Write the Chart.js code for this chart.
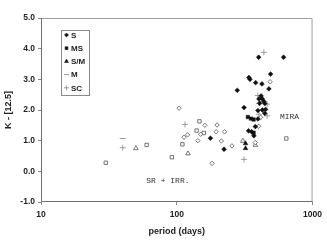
<!DOCTYPE html>
<html>
<head>
<meta charset="utf-8">
<script src="https://cdn.jsdelivr.net/npm/chart.js@4.4.1/dist/chart.umd.min.js"></script>
<style>
  html, body { margin: 0; padding: 0; background: #fff; }
  #wrap { width: 327px; height: 251px; }
</style>
</head>
<body>
<div id="wrap"><canvas id="kChart" width="327" height="251"></canvas></div>
<script>
// period (days) / K-[12.5] pairs
// filled markers = Mira variables, open markers = SR + IRR.
const sPeriod  = [401, 612, 491, 340, 346, 381, 424, 477, 279, 418, 403, 427, 438, 445, 408, 313, 396, 427, 451, 445, 396, 379, 338, 356, 370, 177, 223];
const sK       = [3.72, 3.72, 3.17, 3.06, 3.00, 2.89, 2.85, 2.69, 2.64, 2.46, 2.36, 2.36, 2.28, 2.21, 2.22, 2.08, 1.98, 2.00, 2.02, 1.89, 1.71, 1.46, 1.32, 1.29, 1.16, 1.08, 0.72];

const msPeriod = [334, 352, 368, 368];
const msK      = [1.77, 1.72, 1.69, 1.26];

const smPeriod = [321, 321];
const smK      = [0.91, 0.75];

const mPeriod  = [40];
const mK       = [1.07];

const scPeriod = [40, 115, 438, 395, 403, 463, 403, 463, 313];
const scK      = [0.77, 1.53, 3.88, 2.47, 2.22, 2.19, 1.86, 1.81, 0.39];

const sOpenPeriod  = [104, 161, 198, 113, 120, 150, 143, 195, 225, 213, 255, 182, 378, 401, 415, 487];
const sOpenK       = [2.06, 1.50, 1.51, 1.11, 1.19, 1.21, 1.00, 1.29, 1.29, 0.99, 0.83, 0.26, 0.94, 1.47, 1.76, 2.92];

const msOpenPeriod = [30, 60, 92, 110, 147, 140, 158, 641];
const msOpenK      = [0.28, 0.86, 0.46, 0.88, 1.63, 1.33, 1.25, 1.07];

const smOpenPeriod = [50, 121, 307, 379];
const smOpenK      = [0.75, 0.58, 0.99, 0.86];

const xTicks = [10, 100, 1000];
const yTicks = [-1, 0, 1, 2, 3, 4, 5];

function pts(xs, ys) {
  return xs.map((x, i) => ({ x: x, y: ys[i] }));
}

const ctx = document.getElementById("kChart");

// frame round the plot area (top/right are lighter)
const framePlugin = {
  id: "frame",
  beforeDatasetsDraw(chart) {
    const a = chart.chartArea;
    const c = chart.ctx;
    c.save();
    c.lineWidth = 1;
    c.strokeStyle = "#a0a0a0";
    c.beginPath();
    c.moveTo(a.left, a.top + 0.5);
    c.lineTo(a.right - 0.5, a.top + 0.5);
    c.lineTo(a.right - 0.5, a.bottom);
    c.stroke();
    c.strokeStyle = "#707070";
    c.beginPath();
    c.moveTo(a.left + 0.5, a.top);
    c.lineTo(a.left + 0.5, a.bottom - 0.5);
    c.lineTo(a.right, a.bottom - 0.5);
    c.stroke();
    c.restore();
  }
};

// boxed legend inside the plot, only the filled types
const boxLegend = {
  id: "boxLegend",
  afterDraw(chart) {
    const c = chart.ctx;
    const x0 = 61, y0 = 30, w = 28, h = 65;
    c.save();
    c.fillStyle = "#fff";
    c.fillRect(x0, y0, w, h);
    c.strokeStyle = "#8a8a8a";
    c.lineWidth = 1;
    c.strokeRect(x0 + 0.5, y0 + 0.5, w, h);
    const shown = chart.data.datasets.filter((d) => !d.noLegend);
    shown.forEach((d, i) => {
      const y = 35 + i * 13.2;
      c.fillStyle = d.backgroundColor;
      c.strokeStyle = d.borderColor;
      c.lineWidth = d.borderWidth;
      Chart.helpers.drawPoint(c, { pointStyle: d.pointStyle, radius: d.pointRadius * 0.85, borderWidth: d.borderWidth }, 66.5, y);
      c.fillStyle = "#222";
      c.font = "bold 8px 'Liberation Sans', Arial, sans-serif";
      c.textBaseline = "middle";
      c.textAlign = "left";
      c.fillText(d.label, 71, y + 0.5);
    });
    c.restore();
  }
};

// MIRA / SR + IRR. notes
const notes = {
  id: "notes",
  afterDatasetsDraw(chart) {
    const c = chart.ctx;
    const xs = chart.scales.x, ys = chart.scales.y;
    c.save();
    c.fillStyle = "#333";
    c.font = "8px 'Liberation Mono', 'Courier New', monospace";
    c.textAlign = "center";
    c.textBaseline = "middle";
    c.fillText("MIRA", xs.getPixelForValue(677), ys.getPixelForValue(1.77));
    c.fillText("SR + IRR.", xs.getPixelForValue(86), ys.getPixelForValue(-0.31));
    c.restore();
  }
};

new Chart(ctx, {
  type: "scatter",
  data: {
    datasets: [
      {
        label: "S",
        data: pts(sPeriod, sK),
        pointStyle: "rectRot",
        pointRadius: 2.4,
        backgroundColor: "#111",
        borderColor: "#111",
        borderWidth: 0.5
      },
      {
        label: "MS",
        data: pts(msPeriod, msK),
        pointStyle: "rect",
        pointRadius: 2.4,
        backgroundColor: "#111",
        borderColor: "#111",
        borderWidth: 0.5
      },
      {
        label: "S/M",
        data: pts(smPeriod, smK),
        pointStyle: "triangle",
        pointRadius: 2.7,
        backgroundColor: "#111",
        borderColor: "#111",
        borderWidth: 0.5
      },
      {
        label: "M",
        data: pts(mPeriod, mK),
        pointStyle: "line",
        pointRadius: 3,
        backgroundColor: "#999",
        borderColor: "#999",
        borderWidth: 1
      },
      {
        label: "SC",
        data: pts(scPeriod, scK),
        pointStyle: "cross",
        pointRadius: 3,
        backgroundColor: "#888",
        borderColor: "#888",
        borderWidth: 0.8
      },
      {
        label: "S (SR+IRR)",
        noLegend: true,
        data: pts(sOpenPeriod, sOpenK),
        pointStyle: "rectRot",
        pointRadius: 2.2,
        backgroundColor: "#fff",
        borderColor: "#555",
        borderWidth: 0.8
      },
      {
        label: "MS (SR+IRR)",
        noLegend: true,
        data: pts(msOpenPeriod, msOpenK),
        pointStyle: "rect",
        pointRadius: 2.4,
        backgroundColor: "#fff",
        borderColor: "#555",
        borderWidth: 0.8
      },
      {
        label: "S/M (SR+IRR)",
        noLegend: true,
        data: pts(smOpenPeriod, smOpenK),
        pointStyle: "triangle",
        pointRadius: 2.7,
        backgroundColor: "#fff",
        borderColor: "#555",
        borderWidth: 0.8
      }
    ]
  },
  options: {
    responsive: false,
    animation: false,
    layout: { padding: { top: 18, right: 14, left: 0, bottom: 0 } },
    plugins: {
      legend: { display: false },
      tooltip: { enabled: false }
    },
    scales: {
      x: {
        type: "logarithmic",
        min: 10,
        max: 1000,
        afterBuildTicks: (s) => { s.ticks = xTicks.map((v) => ({ value: v })); },
        afterFit: (s) => { s.height = 49; },
        ticks: {
          color: "#222",
          font: { family: "'Liberation Sans', Arial, sans-serif", size: 8.5, weight: "bold" },
          padding: 5,
          maxRotation: 0,
          callback: (v) => String(v)
        },
        grid: { drawOnChartArea: false, tickLength: 3, color: "#888" },
        border: { display: false },
        title: {
          display: true,
          text: "period (days)",
          color: "#222",
          font: { family: "'Liberation Sans', Arial, sans-serif", size: 9, weight: "bold" },
          padding: { top: 0, bottom: 14 }
        }
      },
      y: {
        min: -1,
        max: 5,
        afterBuildTicks: (s) => { s.ticks = yTicks.map((v) => ({ value: v })); },
        afterFit: (s) => { s.width = 41; },
        ticks: {
          color: "#222",
          font: { family: "'Liberation Sans', Arial, sans-serif", size: 8.5, weight: "bold" },
          padding: 3,
          callback: (v) => Number(v).toFixed(1)
        },
        grid: { drawOnChartArea: false, tickLength: 3, color: "#888" },
        border: { display: false },
        title: {
          display: true,
          text: "K - [12.5]",
          color: "#222",
          font: { family: "'Liberation Sans', Arial, sans-serif", size: 9, weight: "bold" },
          padding: { top: 3, bottom: 0 }
        }
      }
    }
  },
  plugins: [framePlugin, notes, boxLegend]
});
</script>
</body>
</html>
